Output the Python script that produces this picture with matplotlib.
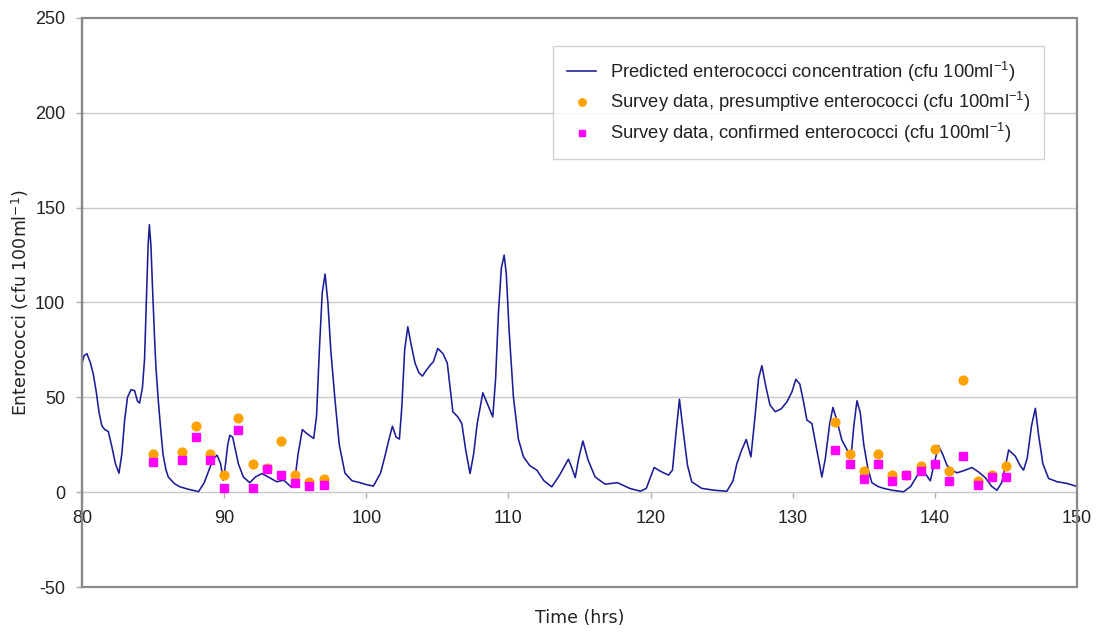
import matplotlib
matplotlib.use("Agg")
import matplotlib.pyplot as plt
from matplotlib.patches import Rectangle

plt.rcParams["font.family"] = ["Liberation Sans", "DejaVu Sans"]
plt.rcParams["axes.unicode_minus"] = False
plt.rcParams["mathtext.fontset"] = "custom"
plt.rcParams["mathtext.rm"] = "Liberation Sans"
plt.rcParams["mathtext.it"] = "Liberation Sans:italic"
plt.rcParams["mathtext.bf"] = "Liberation Sans:bold"

# Modelled enterococci concentration (time in hours, cfu per 100 ml)
model_time = [
    80.0, 80.15, 80.35, 80.6, 80.8, 81.0, 81.2, 81.4, 81.6, 81.85, 82.1, 82.35,
    82.6, 82.8, 83.0, 83.2, 83.45, 83.7, 83.9, 84.05, 84.25, 84.4, 84.55, 84.65,
    84.74, 84.85, 84.95, 85.1, 85.2, 85.37, 85.55, 85.7, 85.9, 86.07, 86.5, 86.9,
    87.5, 88.2, 88.6, 89.0, 89.3, 89.5, 89.75, 89.94, 90.1, 90.25, 90.4, 90.6,
    90.8, 91.0, 91.35, 91.8, 92.2, 92.65, 93.1, 93.7, 94.2, 94.75, 95.0, 95.2,
    95.5, 95.8, 96.3, 96.5, 96.7, 96.9, 97.1, 97.3, 97.5, 97.8, 98.1, 98.5,
    99.0, 99.56, 100.0, 100.5, 101.0, 101.3, 101.6, 101.84, 102.1, 102.33, 102.5,
    102.7, 102.92, 103.15, 103.43, 103.7, 103.95, 104.2, 104.5, 104.72, 105.03,
    105.4, 105.7, 105.9, 106.09, 106.44, 106.72, 107.0, 107.3, 107.55, 107.8,
    108.2, 108.55, 108.9, 109.1, 109.3, 109.5, 109.7, 109.85, 110.05, 110.35,
    110.7, 111.06, 111.5, 112.0, 112.5, 113.05, 113.6, 114.22, 114.45, 114.7,
    114.95, 115.24, 115.6, 116.1, 116.8, 117.67, 118.56, 119.3, 119.7, 120.0,
    120.25, 120.7, 121.26, 121.54, 121.8, 122.03, 122.3, 122.6, 122.9, 123.6,
    124.5, 125.37, 125.8, 126.07, 126.4, 126.73, 127.06, 127.35, 127.6, 127.83,
    128.1, 128.4, 128.77, 129.2, 129.6, 129.95, 130.22, 130.5, 130.75, 131.0,
    131.35, 131.7, 132.05, 132.3, 132.6, 132.83, 133.1, 133.46, 134.1, 134.3,
    134.52, 134.75, 135.0, 135.3, 135.57, 136.0, 136.4, 137.0, 137.8, 138.3,
    138.7, 139.09, 139.4, 139.68, 139.95, 140.26, 140.55, 140.85, 141.2, 141.56,
    142.1, 142.61, 143.1, 143.55, 144.0, 144.37, 144.7, 145.0, 145.19, 145.66,
    146.0, 146.24, 146.5, 146.8, 147.07, 147.3, 147.6, 148.0, 148.6, 149.3, 150.0,
]
model_conc = [
    68, 72, 73, 68, 62, 53, 42, 35, 33, 32, 24, 15,
    10, 20, 38, 50, 54, 53.5, 48, 47, 55, 70, 105, 130,
    141, 130, 110, 82, 66, 48, 32, 20, 12, 8, 4.5, 2.8,
    1.5, 0.3, 5, 13, 18, 19.5, 15, 6.3, 15, 25, 30, 29,
    22, 15, 8, 5, 8, 9.8, 8, 5.5, 6.3, 2.5, 8, 20,
    33, 31, 28.3, 40, 75, 105, 115, 100, 75, 48.5, 25, 10,
    6, 5, 4, 3.2, 10, 18.6, 28, 34.8, 29, 28, 45,
    75, 87.2, 78, 68, 63, 61.2, 64, 67, 68.8, 75.8,
    73, 68, 55, 42.4, 39.7, 36.2, 22, 9.8, 20, 36,
    52.4, 46, 39.7, 60, 95, 118, 125, 115, 85, 50.3,
    28, 18.6, 14, 11.6, 6, 2.8, 9, 17.4, 13, 7.7,
    18, 27, 17, 8, 4.2, 5, 1.9, 0.5, 2, 8,
    13, 11, 9, 11.6, 32, 49, 32, 14, 5.4, 2,
    1, 0.5, 6, 15, 22, 27.8, 18.6, 40, 60, 66.7,
    56, 46, 42.4, 44, 47.7, 53, 59.5, 57, 48, 38,
    36.2, 22, 8, 18, 36, 44.7, 38, 27.4, 18.5, 35,
    48.2, 42, 25, 12, 5, 3, 2, 1, 0.2, 3,
    8, 12, 9, 6, 15, 24.5, 20, 14.2, 11.5, 10.2,
    11.5, 13, 10.5, 7.6, 3, 1, 5, 15, 22.2, 19,
    14, 11.6, 18, 35, 44.2, 30, 15, 7.2, 5.5, 4.6, 3,
]

# Survey samples taken hourly
survey_time = [85, 87, 88, 89, 90, 91, 92, 93, 94, 95, 96, 97,
               133, 134, 135, 136, 137, 138, 139, 140, 141, 142, 143, 144, 145]
presumptive = [20, 21, 35, 20, 9, 39, 15, 13, 27, 9, 5.5, 7,
               37, 20, 11, 20, 9, 9, 14, 23, 11, 59, 6, 9, 14]
confirmed = [16, 17, 29, 17, 2, 33, 2, 12, 9, 5, 3, 4,
             22, 15, 7, 15, 6, 9, 11, 15, 6, 19, 4, 8, 8]

x_ticks = [80, 90, 100, 110, 120, 130, 140, 150]
y_ticks = [-50, 0, 50, 100, 150, 200, 250]

unit = r"(cfu 100ml$^{\mathregular{-1}}$)"

fig = plt.figure(figsize=(11, 6.32), dpi=100)
ax = fig.add_axes([82 / 1100, 45 / 632, 995 / 1100, 569 / 632])

ax.set_xlim(80, 150)
ax.set_ylim(-50, 250)

# horizontal gridlines
for y in [50, 100, 150, 200]:
    ax.axhline(y, color="#c8c8c8", lw=1.0, zorder=0)

ax.plot(model_time, model_conc, color="#1c1c96", lw=1.15, zorder=3,
        solid_joinstyle="round",
        label="Predicted enterococci concentration " + unit)
ax.plot(survey_time, presumptive, linestyle="none", marker="o", ms=6.3,
        color="#ffa200", mec="#ffa200", zorder=4,
        label="Survey data, presumptive enterococci " + unit)
ax.plot(survey_time, confirmed, linestyle="none", marker="s", ms=5.8,
        color="#ff00ff", mec="#ff00ff", zorder=5,
        label="Survey data, confirmed enterococci " + unit)

# x axis crosses the value axis at zero
for side in ["top", "right"]:
    ax.spines[side].set_visible(False)
ax.spines["bottom"].set_position(("data", 0))
ax.spines["bottom"].set_color("#c8c8c8")
ax.spines["bottom"].set_linewidth(1.0)
ax.spines["left"].set_color("#8a8a8a")
ax.spines["left"].set_linewidth(1.6)
ax.add_patch(Rectangle((0, 0), 1, 1, transform=ax.transAxes, fill=False,
                       edgecolor="#8a8a8a", lw=1.6, clip_on=False, zorder=6))

ax.set_xticks(x_ticks)
ax.set_yticks(y_ticks)
ax.tick_params(axis="x", direction="out", length=4, width=1.0, color="#b0b0b0",
               pad=9, labelsize=13, labelcolor="#222222")
ax.tick_params(axis="y", direction="out", length=4, width=1.0, color="#b0b0b0",
               pad=8, labelsize=13, labelcolor="#222222")

ax.set_xlabel("Time (hrs)", fontsize=12.5, color="#222222",
              family=["DejaVu Sans"], labelpad=0)
ax.xaxis.set_label_coords(0.5, -0.038)
ax.set_ylabel("Enterococci " + unit, fontsize=12.5, color="#222222",
              family=["DejaVu Sans"])
ax.yaxis.set_label_coords(-0.051, 0.5)

leg = ax.legend(loc="upper left", bbox_to_anchor=(0.4735, 0.951),
                fontsize=13.2, frameon=True, fancybox=False, borderpad=0.75,
                handlelength=1.6, handletextpad=0.75, labelspacing=0.36,
                borderaxespad=0, markerscale=0.85)
leg.get_frame().set_edgecolor("#c8c8c8")
leg.get_frame().set_linewidth(1.0)
for t in leg.get_texts():
    t.set_color("#222222")

fig.savefig("out.png", dpi=100)
